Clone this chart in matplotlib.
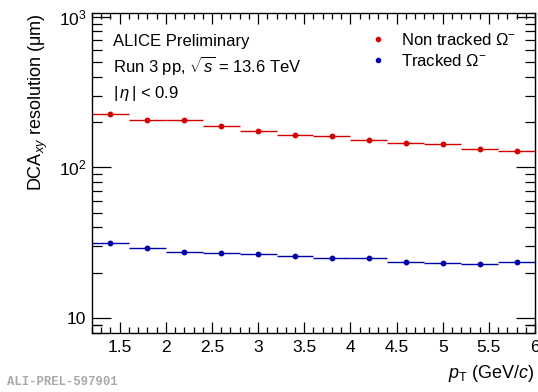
import numpy as np
import matplotlib
matplotlib.use("Agg")
import matplotlib.pyplot as plt
from matplotlib.ticker import FixedLocator, NullFormatter
from matplotlib.lines import Line2D

plt.rcParams['font.family'] = ['Liberation Sans', 'DejaVu Sans']
plt.rcParams['mathtext.fontset'] = 'custom'
plt.rcParams['mathtext.rm'] = 'Liberation Sans'
plt.rcParams['mathtext.it'] = 'Liberation Sans:italic'
plt.rcParams['mathtext.bf'] = 'Liberation Sans:bold'

# data
pt = [1.4, 1.8, 2.2, 2.6, 3.0, 3.4, 3.8, 4.2, 4.6, 5.0, 5.4, 5.8]
pt_halfwidth = 0.2
non_tracked = [228, 208, 206, 188, 175, 165, 161, 152, 145, 144, 132, 129]
tracked = [31.4, 29.3, 27.5, 26.9, 26.5, 26.0, 25.1, 25.2, 23.6, 23.1, 22.7, 23.4]

red = '#d40000'
blue = '#0000a8'

fig = plt.figure(figsize=(5.38, 3.92), dpi=100)
ax = fig.add_axes([0.171, 0.1505, 0.8234, 0.8163])

ax.errorbar(pt, non_tracked, xerr=pt_halfwidth, fmt='o', color=red, ms=3.2,
            elinewidth=1.0, capsize=0)
ax.errorbar(pt, tracked, xerr=pt_halfwidth, fmt='o', color=blue, ms=3.2,
            elinewidth=1.0, capsize=0)

ax.set_yscale('log')
ax.set_xlim(1.2, 6.0)
ax.set_ylim(7.95, 1060)

# ROOT-like ticks
ax.xaxis.set_major_locator(FixedLocator(np.arange(1.5, 6.01, 0.5)))
ax.xaxis.set_minor_locator(FixedLocator(np.arange(1.2, 6.01, 0.1)))
ax.set_xticklabels(['1.5', '2', '2.5', '3', '3.5', '4', '4.5', '5', '5.5', '6'])
ax.yaxis.set_major_locator(FixedLocator([10, 100, 1000]))
minors = [m * d for d in (1, 10, 100) for m in range(2, 10)] + [9]
ax.yaxis.set_minor_locator(FixedLocator(minors))
ax.yaxis.set_minor_formatter(NullFormatter())
ax.set_yticklabels(['10', r'$10^{2}$', r'$10^{3}$'])

ax.tick_params(axis='both', which='both', direction='in', top=True, right=True,
               labelsize=12.5, width=0.9, colors='black')
ax.tick_params(axis='x', which='major', length=8, pad=5)
ax.tick_params(axis='x', which='minor', length=4)
ax.tick_params(axis='y', which='major', length=14, pad=4)
ax.tick_params(axis='y', which='minor', length=7)
for s in ax.spines.values():
    s.set_linewidth(1.0)

ax.set_ylabel(r'DCA$_{xy}$ resolution ($\mathrm{\mu}$m)', fontsize=13)
ax.yaxis.set_label_coords(-0.095, 1.0)
ax.yaxis.label.set_ha('right')
ax.set_xlabel(r'$p_{\mathrm{T}}$ (GeV/$c$)', fontsize=13)
ax.xaxis.set_label_coords(1.0, -0.095)
ax.xaxis.label.set_ha('right')

ax.text(0.047, 0.912, 'ALICE Preliminary', transform=ax.transAxes, fontsize=12, va='center')
ax.text(0.047, 0.835, r'Run 3 pp, $\sqrt{s}$ = 13.6 TeV', transform=ax.transAxes, fontsize=12, va='center')
ax.text(0.047, 0.75, r'$|\,\eta\,|$ < 0.9', transform=ax.transAxes, fontsize=12, va='center')

handles = [Line2D([], [], ls='none', marker='o', ms=3.0, color=red),
           Line2D([], [], ls='none', marker='o', ms=3.0, color=blue)]
labels = [r'Non tracked $\Omega^{-}$', r'Tracked $\Omega^{-}$']
ax.legend(handles, labels, loc='upper right', bbox_to_anchor=(0.98, 0.971), frameon=False,
          fontsize=12, handlelength=1.0, handletextpad=0.9, labelspacing=0.27, borderaxespad=0.2)

fig.text(0.013, 0.018, 'ALI-PREL-597901', fontsize=8.8, color='#a8a8a8',
         family=['Liberation Mono', 'DejaVu Sans Mono'], weight='bold')

fig.savefig('out.png', dpi=100)
